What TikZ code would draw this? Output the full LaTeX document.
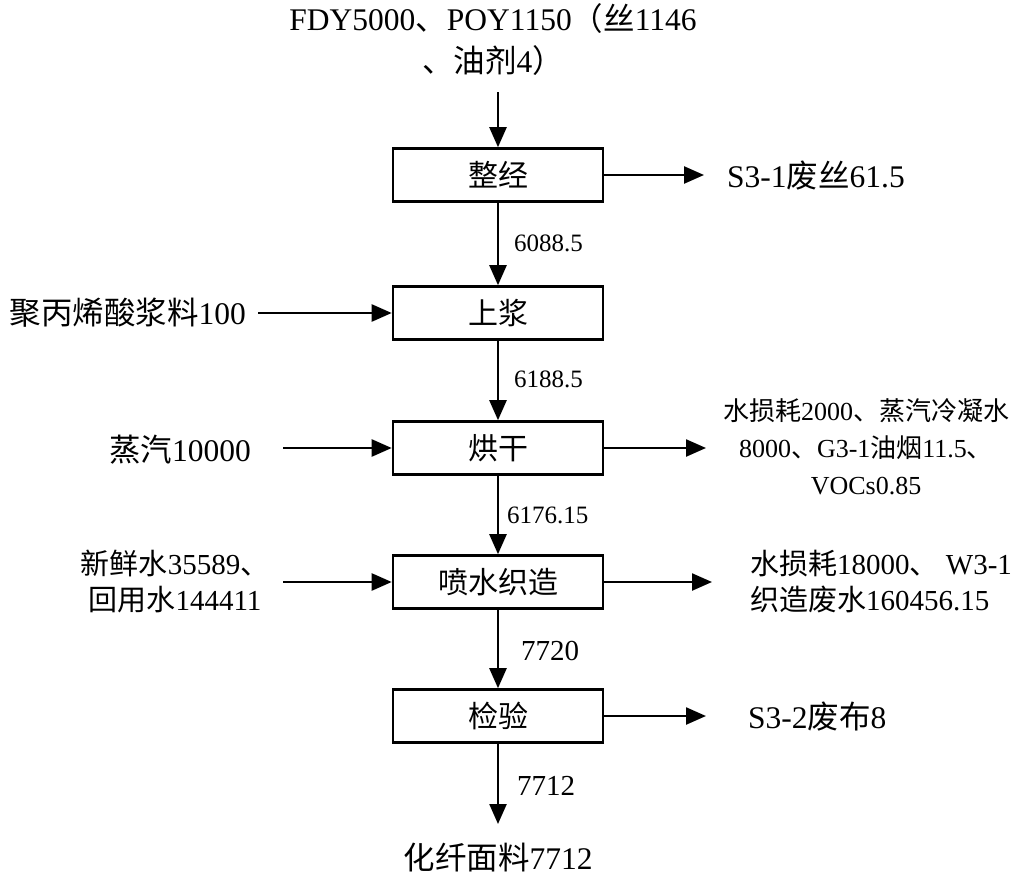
\documentclass[tikz,border=0pt]{standalone}
\usepackage{fontspec}
\setmainfont{Liberation Serif}
\newfontfamily\cjk{Noto Sans CJK SC}
\newcommand\zh[1]{{\cjk #1}}
\usetikzlibrary{arrows.meta}
\begin{document}
\begin{tikzpicture}[x=1pt,y=-1pt,
  box/.style={draw,line width=2.6pt,minimum width=210pt,minimum height=53pt,inner sep=0pt,font=\fontsize{30}{34}\selectfont},
  arr/.style={line width=2.4pt,-{Triangle[length=20pt,width=17pt]}},
  big/.style={inner sep=0pt,font=\fontsize{31.5}{42}\selectfont},
  mid/.style={inner sep=0pt,font=\fontsize{26}{37}\selectfont},
  mid2/.style={inner sep=0pt,font=\fontsize{29}{36}\selectfont},
  num/.style={inner sep=0pt,font=\fontsize{25}{28}\selectfont},
  num2/.style={inner sep=0pt,font=\fontsize{29}{32}\selectfont}]
\useasboundingbox (0,0) rectangle (1022,878);
% boxes
\node[box] (b1) at (498,175) {\zh{整经}};
\node[box] (b2) at (498,313) {\zh{上浆}};
\node[box] (b3) at (498,448) {\zh{烘干}};
\node[box] (b4) at (498,582) {\zh{喷水织造}};
\node[box] (b5) at (498,716) {\zh{检验}};
% top input
\node[big,align=center] (top) at (493,40) {FDY5000\zh{、}POY1150\zh{（丝}1146\\\zh{、油剂}4\zh{）}};
\coordinate (t1) at (498,92);
\draw[arr] (t1) -- (b1.north);
% main flow
\draw[arr] (b1.south) -- (b2.north);
\node[num,anchor=west] (n1) at (514,243) {6088.5};
\draw[arr] (b2.south) -- (b3.north);
\node[num,anchor=west] (n2) at (514,379) {6188.5};
\draw[arr] (b3.south) -- (b4.north);
\node[num,anchor=west] (n3) at (507,515) {6176.15};
\draw[arr] (b4.south) -- (b5.north);
\node[num2,anchor=west] (n4) at (521,651) {7720};
\node[big] (out) at (498,858) {\zh{化纤面料}7712};
\coordinate (o0) at (498,824);
\draw[arr] (b5.south) -- (o0);
\node[num2,anchor=west] (n5) at (517,786) {7712};
% right outputs
\coordinate (r1) at (704,175);
\draw[arr] (b1.east) -- (r1);
\node[big,anchor=west] (o1) at (727,176) {S3-1\zh{废丝}61.5};
\coordinate (r3) at (706,448);
\draw[arr] (b3.east) -- (r3);
\node[mid,align=center] (o3) at (866,447) {\zh{水损耗}2000\zh{、蒸汽冷凝水}\\8000\zh{、}G3-1\zh{油烟}11.5\zh{、}\\VOCs0.85};
\coordinate (r4) at (712,582);
\draw[arr] (b4.east) -- (r4);
\node[mid2,align=left,anchor=west] (o4) at (750,582) {\zh{水损耗}18000\zh{、} W3-1\\\zh{织造废水}160456.15};
\coordinate (r5) at (706,716);
\draw[arr] (b5.east) -- (r5);
\node[big,anchor=west] (o5) at (748,717) {S3-2\zh{废布}8};
% left inputs
\node[big,anchor=east] (i2) at (246,313) {\zh{聚丙烯酸浆料}100};
\coordinate (l2) at (258,313);
\draw[arr] (l2) -- (b2.west);
\node[big] (i3) at (180,450) {\zh{蒸汽}10000};
\coordinate (l3) at (283,448);
\draw[arr] (l3) -- (b3.west);
\node[mid2,align=center] (i4) at (175,581) {\zh{新鲜水}35589\zh{、}\\\zh{回用水}144411};
\coordinate (l4) at (283,582);
\draw[arr] (l4) -- (b4.west);
\end{tikzpicture}
\end{document}
